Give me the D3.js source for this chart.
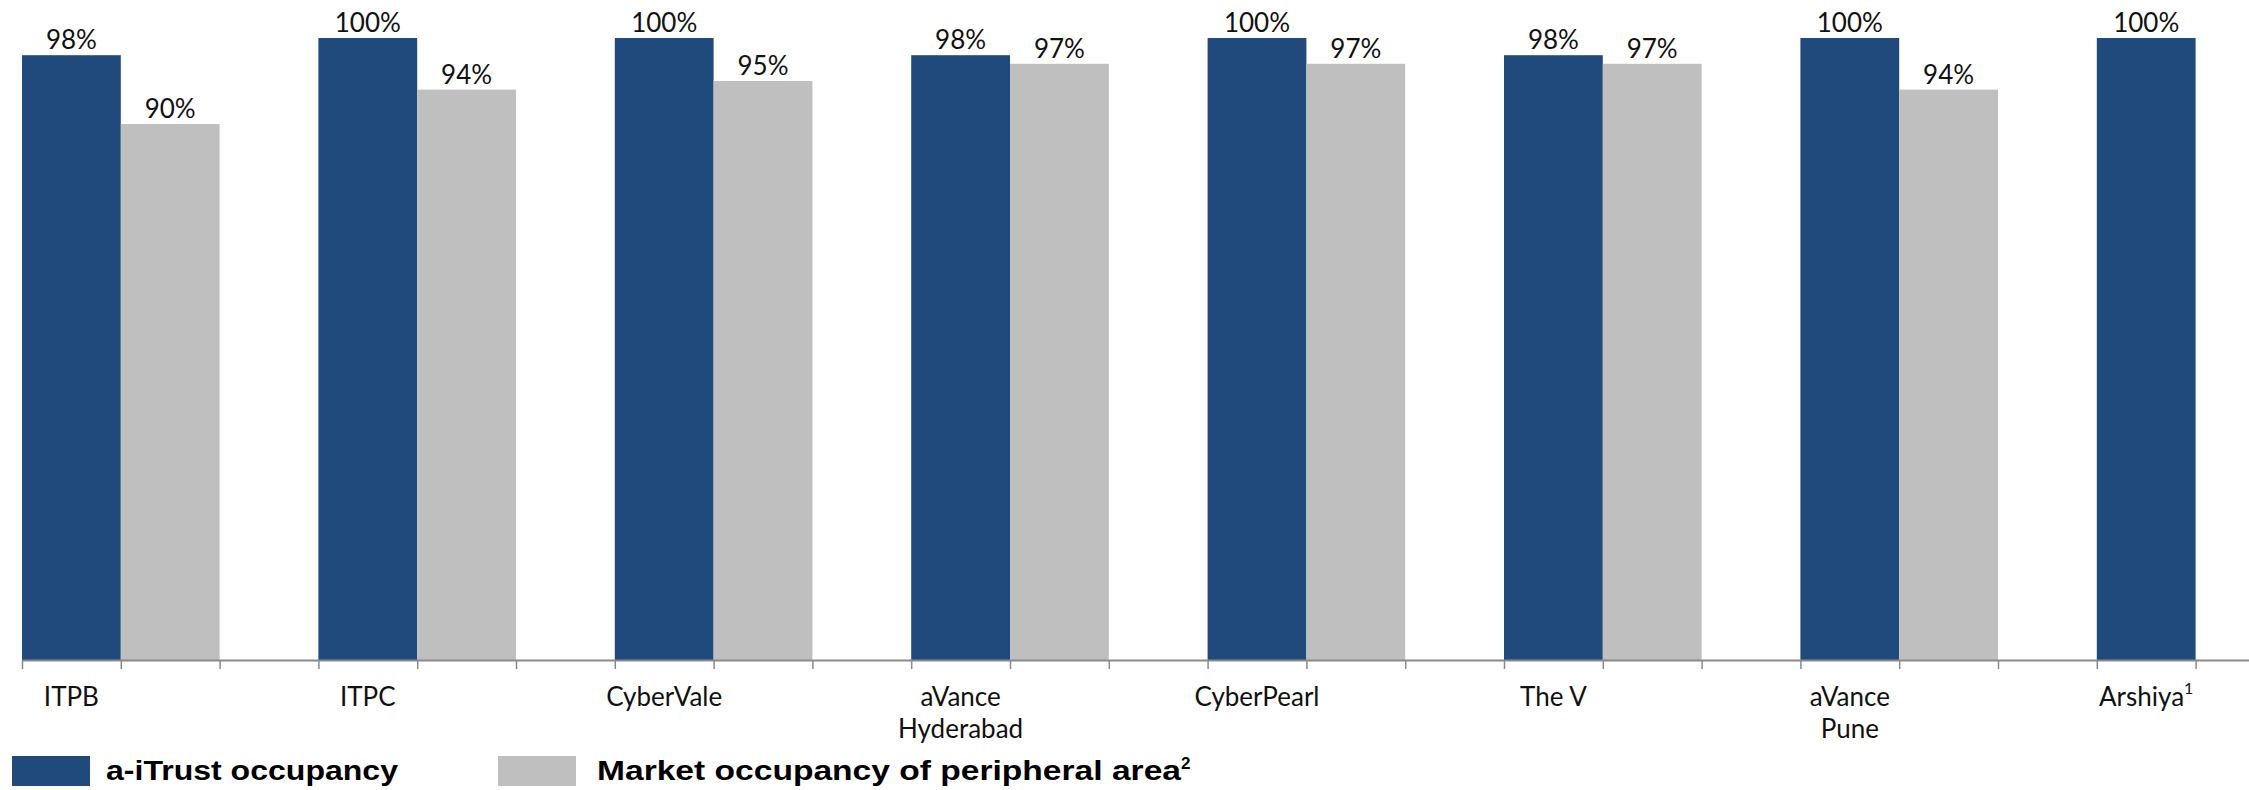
<!DOCTYPE html>
<html>
<head>
<meta charset="utf-8">
<script src="https://cdn.jsdelivr.net/npm/d3@7"></script>
<style>
  html, body { margin: 0; padding: 0; background: #fff; overflow: hidden; }
  svg { display: block; }
</style>
</head>
<body>
<script>
// Occupancy by asset: a-iTrust vs. market occupancy of the peripheral area
const categories = ["ITPB", "ITPC", "CyberVale", "aVance\nHyderabad", "CyberPearl", "The V", "aVance\nPune", "Arshiya"];
const categoryNotes = ["", "", "", "", "", "", "", "1"];
const trustOccupancy = [98, 100, 100, 98, 100, 98, 100, 100];
const marketOccupancy = [90, 94, 95, 97, 97, 97, 94, null];
const seriesNames = ["a-iTrust occupancy", "Market occupancy of peripheral area"];
const seriesNotes = ["", "2"];

const W = 2249, H = 790;
const colors = { trust: "#214A7C", market: "#BFBFBF", axis: "#8A8A8A", text: "#111" };
const regularFont = "'Century Gothic', Lato, 'Liberation Sans', sans-serif";
const boldFont = "'Century Gothic', 'Liberation Sans', Arial, sans-serif";

const svg = d3.select("body").append("svg")
  .attr("width", W).attr("height", H)
  .attr("viewBox", `0 0 ${W} ${H}`);

const baseline = 660, plotTop = 38, left = 22, slotWidth = 98.8;

// each category takes three slots: occupancy bar, market bar, gap
const x = d3.scaleBand()
  .domain(categories)
  .range([left, left + categories.length * 3 * slotWidth])
  .padding(0);
const sub = d3.scaleBand()
  .domain(["trust", "market", "gap"])
  .range([0, x.bandwidth()]);
const y = d3.scaleLinear().domain([27.7, 100]).range([baseline, plotTop]);

const rows = categories.map((c, i) => ({
  category: c, note: categoryNotes[i],
  trust: trustOccupancy[i], market: marketOccupancy[i]
}));

const bars = [];
rows.forEach(r => {
  ["trust", "market"].forEach(k => {
    if (r[k] != null) bars.push({ category: r.category, key: k, value: r[k] });
  });
});

const g = svg.append("g");

g.selectAll("rect.bar").data(bars).join("rect")
  .attr("class", "bar")
  .attr("x", d => x(d.category) + sub(d.key))
  .attr("y", d => y(d.value))
  .attr("width", sub.bandwidth())
  .attr("height", d => baseline - y(d.value))
  .attr("fill", d => colors[d.key]);

g.selectAll("text.value").data(bars).join("text")
  .attr("class", "value")
  .attr("x", d => x(d.category) + sub(d.key) + sub.bandwidth() / 2)
  .attr("y", d => y(d.value) - 6)
  .attr("text-anchor", "middle")
  .attr("font-family", regularFont)
  .attr("font-size", 26)
  .attr("fill", colors.text)
  .text(d => d.value + "%");

// category axis with a tick at every slot boundary
const slotScale = d3.scaleLinear()
  .domain([0, categories.length * 3])
  .range(x.range());
const axis = d3.axisBottom(slotScale)
  .tickValues(d3.range(0, categories.length * 3 + 1))
  .tickSize(9)
  .tickSizeOuter(0)
  .tickFormat("");
const axisG = svg.append("g")
  .attr("transform", `translate(0,${baseline})`)
  .call(axis);
axisG.select(".domain").attr("stroke", colors.axis).attr("stroke-width", 2);
axisG.selectAll(".tick line").attr("stroke", colors.axis).attr("stroke-width", 1.5);

const labels = svg.append("g").selectAll("text").data(rows).join("text")
  .attr("x", d => x(d.category) + sub("trust") + sub.bandwidth() / 2)
  .attr("y", 706)
  .attr("text-anchor", "middle")
  .attr("font-family", regularFont)
  .attr("font-size", 26)
  .attr("fill", colors.text);
labels.each(function (d) {
  const t = d3.select(this);
  const lines = d.category.split("\n");
  lines.forEach((line, i) => {
    t.append("tspan")
      .attr("x", x(d.category) + sub("trust") + sub.bandwidth() / 2)
      .attr("dy", i === 0 ? 0 : 32)
      .text(line);
  });
  if (d.note) {
    t.append("tspan")
      .attr("font-size", 16)
      .attr("dy", -12)
      .text(d.note);
  }
});

// legend
const legendItems = [
  { name: seriesNames[0], note: seriesNotes[0], color: colors.trust, rx: 12, tx: 106, len: 292 },
  { name: seriesNames[1], note: seriesNotes[1], color: colors.market, rx: 498, tx: 597, len: 584 }
];
const lg = svg.append("g");
lg.selectAll("rect").data(legendItems).join("rect")
  .attr("x", d => d.rx).attr("y", 756)
  .attr("width", 78).attr("height", 30)
  .attr("fill", d => d.color);
const lt = lg.selectAll("text").data(legendItems).join("text")
  .attr("x", d => d.tx).attr("y", 780)
  .attr("font-family", boldFont)
  .attr("font-weight", "bold")
  .attr("font-size", 27)
  .attr("fill", "#000");
lt.each(function (d) {
  const t = d3.select(this);
  t.append("tspan")
    .attr("textLength", d.len)
    .attr("lengthAdjust", "spacingAndGlyphs")
    .text(d.name);
  if (d.note) t.append("tspan").attr("font-size", 17).attr("dy", -11).text(d.note);
});
</script>
</body>
</html>
